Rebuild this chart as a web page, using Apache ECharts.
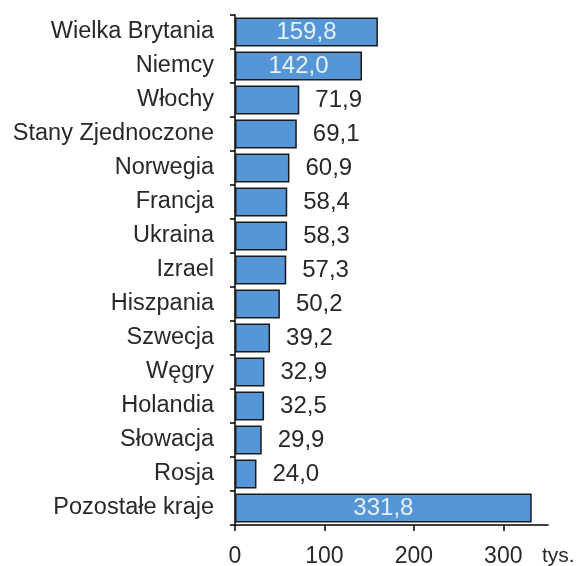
<!DOCTYPE html>
<html>
<head>
<meta charset="utf-8">
<script src="https://cdn.jsdelivr.net/npm/echarts@6/dist/echarts.min.js"></script>
<style>
html,body{margin:0;padding:0;background:#fff;}
#chart{width:579px;height:566px;}
</style>
</head>
<body>
<div id="chart"></div>
<script>
// kraje (od góry do dołu) i wartości w tys.
var countries = ['Wielka Brytania','Niemcy','Włochy','Stany Zjednoczone','Norwegia','Francja','Ukraina','Izrael','Hiszpania','Szwecja','Węgry','Holandia','Słowacja','Rosja','Pozostałe kraje'];
var values = [159.8,142.0,71.9,69.1,60.9,58.4,58.3,57.3,50.2,39.2,32.9,32.5,29.9,24.0,331.8];
var insideLabels = ['Wielka Brytania','Niemcy','Pozostałe kraje'];
var xTicks = [0,100,200,300];

var chart = echarts.init(document.getElementById('chart'));
var font = 'Liberation Sans, Arial, sans-serif';
var textColor = '#282828';

var seriesData = [];
for(var i=0;i<countries.length;i++){
    var inside = insideLabels.indexOf(countries[i]) >= 0;
    seriesData.push({
        value: values[i],
        label: inside ? {position:'inside', color:'#e6f0fa'} : {position:'right', distance:16, color:textColor}
    });
}

var option = {
    animation: false,
    grid: {left:235, right:31, top:15, bottom:41, containLabel:false, outerBoundsMode:'none'},
    xAxis: {
        type: 'value',
        min: 0,
        max: 350,
        interval: 100,
        name: 'tys.',
        nameLocation: 'end',
        nameGap: -6,
        nameTextStyle: {color:textColor, fontSize:21, fontFamily:font, align:'left', verticalAlign:'top', padding:[21,0,0,0]},
        splitLine: {show:false},
        axisLine: {show:true, lineStyle:{color:'#000', width:1.5}},
        axisTick: {show:true, length:6, customValues:xTicks, lineStyle:{color:'#000', width:1.5}},
        axisLabel: {customValues:xTicks, color:textColor, fontSize:23, fontFamily:font, margin:20}
    },
    yAxis: {
        type: 'category',
        inverse: true,
        data: countries,
        axisLine: {show:true, lineStyle:{color:'#000', width:1.5}},
        axisTick: {show:true, length:5, lineStyle:{color:'#000', width:1.5}},
        axisLabel: {color:textColor, fontSize:23.5, fontFamily:font, margin:21}
    },
    series: [{
        type: 'bar',
        data: seriesData,
        barCategoryGap: '14%',
        itemStyle: {color:'#5596d6', borderColor:'#1a1a1a', borderWidth:1.5},
        label: {
            show: true,
            fontSize: 24,
            fontFamily: font,
            formatter: function(p){ return p.value.toFixed(1).replace('.', ','); }
        }
    }]
};
chart.setOption(option);
</script>
</body>
</html>
